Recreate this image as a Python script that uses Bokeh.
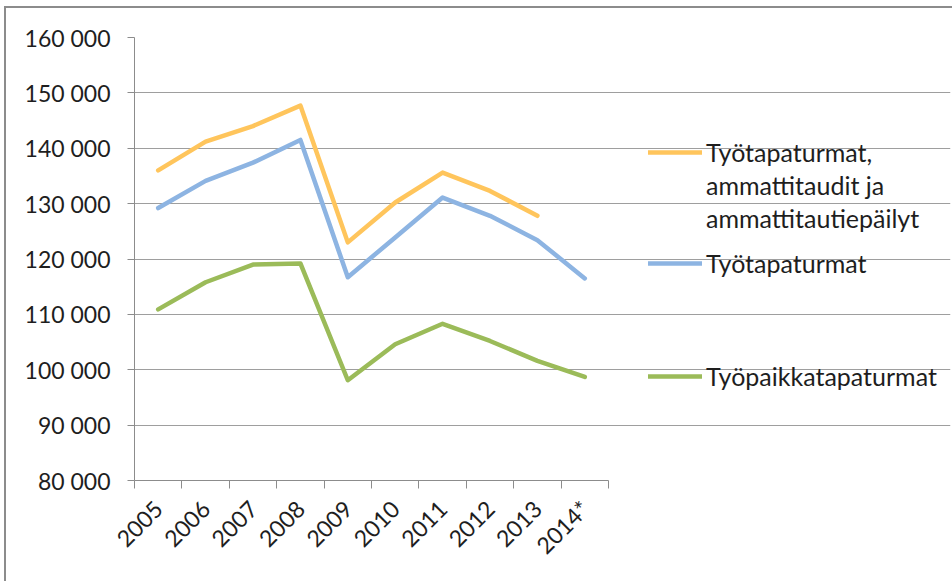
import numpy as np
from bokeh.plotting import figure
from bokeh.models import Range1d, FixedTicker, Legend, LegendItem
from bokeh.embed import file_html
from bokeh.resources import INLINE

# ---- data ----
years = ["2005", "2006", "2007", "2008", "2009", "2010", "2011", "2012", "2013", "2014*"]
tyotapaturmat_ammattitaudit = [136000, 141200, 144000, 147700, 123000, 130200, 135600, 132300, 127800, float("nan")]
tyotapaturmat = [129200, 134100, 137400, 141500, 116700, 123900, 131100, 127800, 123400, 116500]
tyopaikkatapaturmat = [110900, 115800, 119000, 119200, 98100, 104600, 108300, 105200, 101600, 98700]
y_ticks = [80000, 90000, 100000, 110000, 120000, 130000, 140000, 150000, 160000]
y_tick_labels = ["80 000", "90 000", "100 000", "110 000", "120 000", "130 000", "140 000", "150 000", "160 000"]
legend_orange = ["Työtapaturmat,", "ammattitaudit ja", "ammattitautiepäilyt"]
legend_blue = "Työtapaturmat"
legend_green = "Työpaikkatapaturmat"

ORANGE = "#FFC55C"
BLUE = "#8DB4E2"
GREEN = "#9BBB59"
GRID = "#9E9E9E"
AXIS = "#8C8C8C"
TEXT = "#1E1E1E"
FONT = "Lato"

W, H = 952, 581
PLOT_L, PLOT_R, PLOT_T, PLOT_B = 134, 608, 37, 480   # axis area in pixels
FRAME_R = 950                                        # frame stretched to hold the legend

x = list(range(len(years)))
n = len(years)
x_end = -0.5 + n * (FRAME_R - PLOT_L) / (PLOT_R - PLOT_L)

border_css = {
    "background-image": "linear-gradient(#8c8c8c, #8c8c8c), linear-gradient(#8c8c8c, #8c8c8c)",
    "background-size": "2px 100%, 100% 2px",
    "background-position": "4px 6px, 4px 6px",
    "background-repeat": "no-repeat",
}

p = figure(width=W, height=H, output_backend="svg", toolbar_location=None,
           x_range=Range1d(-0.5, x_end), y_range=Range1d(y_ticks[0], y_ticks[-1]),
           min_border_left=PLOT_L, min_border_right=W - FRAME_R,
           min_border_top=PLOT_T, min_border_bottom=H - PLOT_B,
           styles=border_css)
p.outline_line_color = None
p.background_fill_alpha = 0
p.border_fill_alpha = 0

# y axis
p.yaxis.ticker = FixedTicker(ticks=y_ticks, minor_ticks=[])
p.yaxis.major_label_overrides = {t: l for t, l in zip(y_ticks, y_tick_labels)}
p.yaxis.axis_line_color = AXIS
p.yaxis.major_tick_line_color = AXIS
p.yaxis.major_tick_out = 7
p.yaxis.major_tick_in = 0
p.yaxis.minor_tick_line_color = None
p.yaxis.major_label_standoff = 17
p.yaxis.major_label_text_font = FONT
p.yaxis.major_label_text_font_size = "23px"
p.yaxis.major_label_text_color = TEXT

# x axis: labels at category centres, tick marks at category boundaries
p.xaxis.bounds = (-0.5, n - 0.5)
p.xaxis.ticker = FixedTicker(ticks=x, minor_ticks=[i - 0.5 for i in range(n + 1)])
p.xaxis.major_label_overrides = {i: y for i, y in zip(x, years)}
p.xaxis.axis_line_color = AXIS
p.xaxis.major_tick_line_color = None
p.xaxis.major_tick_out = 0
p.xaxis.major_tick_in = 0
p.xaxis.minor_tick_line_color = AXIS
p.xaxis.minor_tick_out = 8
p.xaxis.minor_tick_in = 0
p.xaxis.major_label_orientation = np.pi / 4
p.xaxis.major_label_standoff = 16
p.xaxis.major_label_text_font = FONT
p.xaxis.major_label_text_font_size = "23px"
p.xaxis.major_label_text_color = TEXT

p.xgrid.grid_line_color = None
p.ygrid.ticker = FixedTicker(ticks=y_ticks)
p.ygrid.bounds = (-0.5, n - 0.5)
p.ygrid.grid_line_color = GRID
p.ygrid.grid_line_width = 1

r_o = p.line(x, tyotapaturmat_ammattitaudit, line_color=ORANGE, line_width=4.5, line_join="round", line_cap="round")
r_b = p.line(x, tyotapaturmat, line_color=BLUE, line_width=4.5, line_join="round", line_cap="round")
r_g = p.line(x, tyopaikkatapaturmat, line_color=GREEN, line_width=4.5, line_join="round", line_cap="round")
r_blank = p.line(x, tyotapaturmat, line_alpha=0)


def make_legend(items, loc):
    leg = Legend(items=items, location=loc, orientation="vertical",
                 padding=0, margin=0, spacing=3, border_line_color=None,
                 background_fill_alpha=0, glyph_width=54, glyph_height=30,
                 label_height=30, label_standoff=4,
                 label_text_font=FONT, label_text_font_size="25px", label_text_color=TEXT)
    p.add_layout(leg)
    return leg


make_legend([LegendItem(label=legend_orange[0], renderers=[r_o]),
             LegendItem(label=legend_orange[1], renderers=[r_blank]),
             LegendItem(label=legend_orange[2], renderers=[r_blank])], (514, 247))
make_legend([LegendItem(label=legend_blue, renderers=[r_b])], (514, 202))
make_legend([LegendItem(label=legend_green, renderers=[r_g])], (514, 89))

open("out.html", "w").write(file_html(p, INLINE))
